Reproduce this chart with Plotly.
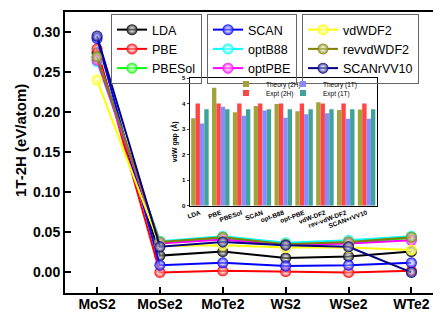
import plotly.graph_objects as go

compounds = ["MoS2", "MoSe2", "MoTe2", "WS2", "WSe2", "WTe2"]
methods = ["LDA", "PBE", "PBESol", "SCAN", "optB88", "optPBE", "vdWDF2", "revvdWDF2", "SCANrVV10"]
colors = ["#000000", "#ff0000", "#00ff00", "#0000ff", "#00ffff", "#ff00ff", "#ffff00", "#808000", "#000080"]

LDA = [0.274, 0.021, 0.026, 0.018, 0.020, 0.026]
PBE = [0.279, 0.000, 0.002, 0.001, 0.000, 0.002]
PBESol = [0.268, 0.037, 0.043, 0.035, 0.037, 0.043]
SCAN = [0.292, 0.009, 0.012, 0.008, 0.009, 0.012]
optB88 = [0.263, 0.039, 0.045, 0.037, 0.040, 0.045]
optPBE = [0.265, 0.036, 0.041, 0.034, 0.036, 0.040]
vdWDF2 = [0.240, 0.033, 0.034, 0.031, 0.031, 0.028]
revvdWDF2 = [0.269, 0.038, 0.044, 0.035, 0.038, 0.044]
SCANrVV10 = [0.295, 0.032, 0.038, 0.034, 0.032, 0.000]
series = [LDA, PBE, PBESol, SCAN, optB88, optPBE, vdWDF2, revvdWDF2, SCANrVV10]

inset_methods = ["LDA", "PBE", "PBESol", "SCAN", "opt-B88", "opt-PBE", "vdW-DF2", "rev-vdW-DF2", "SCAN+rVV10"]
theory_2H = [3.42, 4.62, 3.66, 3.90, 3.98, 3.70, 4.05, 3.75, 3.77]
expt_2H = [4.00, 4.00, 4.00, 4.00, 4.00, 4.00, 4.00, 4.00, 4.00]
theory_1T = [3.22, 3.87, 3.52, 3.73, 3.44, 3.58, 3.62, 3.40, 3.40]
expt_1T = [3.78, 3.78, 3.78, 3.78, 3.78, 3.78, 3.78, 3.78, 3.78]

F = "Liberation Sans, Arial, sans-serif"

fig = go.Figure()
legend_ids = ["legend", "legend", "legend", "legend2", "legend2", "legend2", "legend3", "legend3", "legend3"]
for name, vals, c, lg in zip(methods, series, colors, legend_ids):
    fig.add_trace(go.Scatter(
        x=compounds, y=vals, name=name, mode="lines+markers",
        line=dict(color=c, width=2),
        marker=dict(color=c, size=11, gradient=dict(type="radial", color="rgba(255,255,255,0.35)")),
        legend=lg,
    ))

bar_specs = [
    ("Theory (2H)", theory_2H, "#a3a33c", "legend4"),
    ("Expt (2H)", expt_2H, "#ff4545", "legend5"),
    ("Theory (1T)", theory_1T, "#8a8aff", "legend6"),
    ("Expt (1T)", expt_1T, "#3ea39a", "legend7"),
]
for name, vals, c, lg in bar_specs:
    fig.add_trace(go.Bar(
        x=inset_methods, y=vals, name=name, marker=dict(color=c, line=dict(width=0)),
        xaxis="x2", yaxis="y2", showlegend=False, legendgroup=name,
    ))
# compact legend swatches for the inset bars
for name, vals, c, lg in bar_specs:
    fig.add_trace(go.Scatter(
        x=[None], y=[None], name=name, mode="markers", legendgroup=name,
        marker=dict(color=c, symbol="square", size=6),
        xaxis="x2", yaxis="y2", legend=lg,
    ))

legbox = dict(bgcolor="rgba(255,255,255,0)", bordercolor="#666666", borderwidth=1,
              font=dict(family=F, size=12.5, color="black"),
              xanchor="left", yanchor="top", tracegroupgap=0)
small = dict(bgcolor="rgba(0,0,0,0)", borderwidth=0, font=dict(family=F, size=6.5, color="black"),
             xanchor="left", yanchor="middle", itemwidth=30)

# window pixel -> plot-area fraction (plot area spans x 65..440, y 12..293 in the window)
def px_x(p):
    return (p - 65) / 375

def px_y(p):
    return (293 - p) / 281

# the page body adds an 8px offset, so the figure is 8px smaller and margins shifted
fig.update_layout(
    width=433, height=305,
    margin=dict(l=57, r=1, t=4, b=20),
    plot_bgcolor="white", paper_bgcolor="white",
    barmode="group", bargap=0.16, bargroupgap=0,
    showlegend=True,
    xaxis=dict(type="category", range=[-0.51, 5.455], showline=True, linecolor="black", linewidth=2, mirror=True,
               ticks="inside", ticklen=6, tickwidth=1.5, tickcolor="black", showgrid=False, zeroline=False,
               automargin=False, ticklabelstandoff=-3,
               tickfont=dict(family=F, size=14, color="black", weight="bold")),
    yaxis=dict(range=[-0.0257, 0.325], showline=True, linecolor="black", linewidth=2,
               ticks="inside", ticklen=6, tickwidth=1.5, tickcolor="black", showgrid=False, zeroline=False,
               automargin=False,
               tickvals=[0, 0.05, 0.10, 0.15, 0.20, 0.25, 0.30], tickformat=".2f",
               tickfont=dict(family=F, size=14, color="black", weight="bold")),
    xaxis2=dict(domain=[px_x(189.5), px_x(377)], anchor="y2", type="category", range=[-0.5, 8.5], showline=True,
                linecolor="black", linewidth=1, mirror=True, ticks="", showgrid=False, zeroline=False,
                automargin=False,
                tickangle=-20, tickfont=dict(family=F, size=6.5, color="black", weight="bold")),
    yaxis2=dict(domain=[px_y(205.7), px_y(78)], anchor="x2", range=[0, 5], showline=True, linecolor="black",
                linewidth=1, automargin=False,
                mirror=True, ticks="outside", ticklen=2, showgrid=False, zeroline=False, dtick=1,
                tickfont=dict(family=F, size=6, color="black", weight="bold"),
                title=dict(text="vdW gap (Å)", font=dict(family=F, size=7, color="black", weight="bold"), standoff=3)),
    legend=dict(x=px_x(111), y=px_y(14), **legbox),
    legend2=dict(x=px_x(207), y=px_y(14), **legbox),
    legend3=dict(x=px_x(302), y=px_y(14), **legbox),
    legend4=dict(x=px_x(226), y=px_y(84), **small),
    legend5=dict(x=px_x(226), y=px_y(93), **small),
    legend6=dict(x=px_x(283), y=px_y(84), **small),
    legend7=dict(x=px_x(283), y=px_y(93), **small),
    annotations=[dict(text="1T-2H (eV/atom)", textangle=-90, x=px_x(20), y=px_y(141), xref="paper", yref="paper",
                      showarrow=False, xanchor="center", yanchor="middle",
                      font=dict(family=F, size=15, color="black", weight="bold"))],
)

fig.write_html("out.html")
